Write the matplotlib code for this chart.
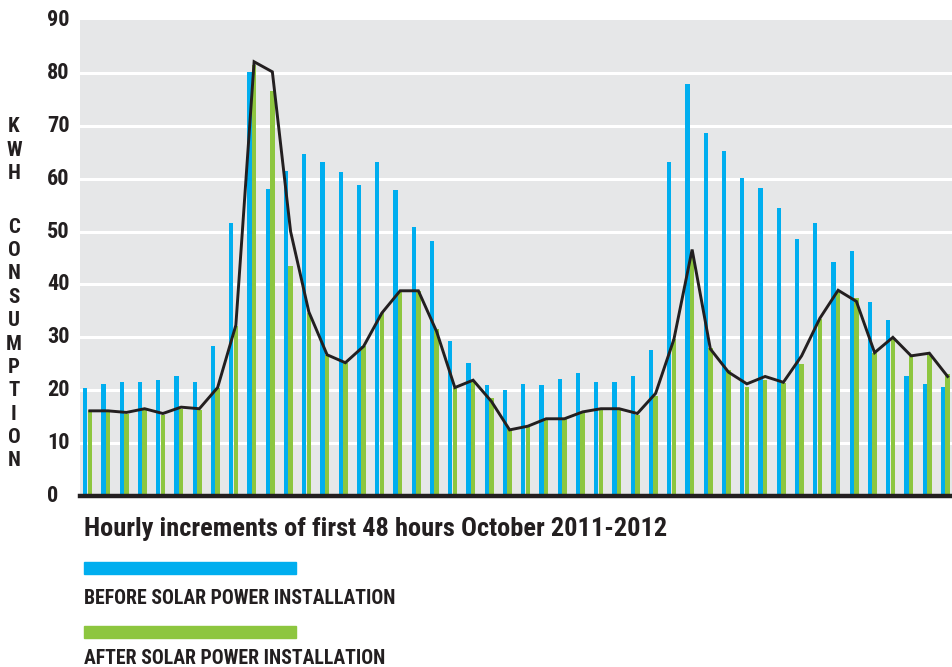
import matplotlib
matplotlib.use("Agg")
import matplotlib.pyplot as plt
from matplotlib import font_manager
import numpy as np

# ---------------- data ----------------
hours = list(range(48))
before_solar = [20.5, 21.2, 21.5, 21.5, 22.0, 22.6, 21.6, 28.4, 51.7, 80.1,
                58.1, 61.5, 64.6, 63.1, 61.2, 58.8, 63.1, 57.8, 50.8, 48.3,
                29.3, 25.2, 20.9, 20.1, 21.2, 20.9, 22.2, 23.3, 21.5, 21.5,
                22.6, 27.6, 63.1, 77.9, 68.6, 65.2, 60.1, 58.3, 54.5, 48.6,
                51.6, 44.3, 46.3, 36.7, 33.2, 22.6, 21.2, 20.6]
after_solar = [16.2, 16.2, 15.5, 16.2, 15.4, 16.5, 16.2, 20.5, 32.2, 81.5,
               76.6, 43.4, 34.6, 26.6, 25.2, 28.3, 34.6, 38.7, 38.7, 31.5,
               20.5, 21.7, 18.6, 12.6, 13.2, 14.3, 14.6, 15.7, 16.4, 16.4,
               15.4, 18.9, 29.7, 45.9, 28.0, 23.9, 20.6, 22.0, 21.4, 25.0,
               33.5, 38.7, 37.4, 27.1, 29.6, 26.7, 26.7, 23.0]
trend_line = [16.1, 16.1, 15.8, 16.5, 15.6, 16.8, 16.5, 20.5, 32.3, 82.1,
              80.2, 50.0, 34.8, 26.7, 25.2, 28.3, 34.6, 38.8, 38.8, 31.1,
              20.5, 21.9, 17.9, 12.5, 13.2, 14.6, 14.6, 15.9, 16.5, 16.5,
              15.6, 19.4, 29.6, 46.6, 27.8, 23.4, 21.2, 22.6, 21.5, 26.5,
              33.6, 38.9, 36.8, 27.1, 30.0, 26.5, 27.0, 22.6]
y_ticks = [0, 10, 20, 30, 40, 50, 60, 70, 80, 90]
y_label = "KWH CONSUMPTION"
title = "Hourly increments of first 48 hours October 2011-2012"
legend_labels = ["BEFORE SOLAR POWER INSTALLATION", "AFTER SOLAR POWER INSTALLATION"]

BLUE = "#00AEEF"
GREEN = "#8DC63F"
DARK = "#231F20"
BG = "#E6E7E8"

# ---------------- fonts ----------------
avail = {f.name for f in font_manager.fontManager.ttflist}
cands = ["Liberation Sans Narrow", "Roboto Condensed", "Open Sans Condensed", "DejaVu Sans"]
FONT = next(c for c in cands if c in avail)
plt.rcParams["font.family"] = [FONT, "DejaVu Sans"]

W, H = 952, 667
fig = plt.figure(figsize=(W / 100, H / 100), dpi=100)

ax_left, ax_right, ax_top, ax_bottom = 80, 952, 20, 496
ax = fig.add_axes([ax_left / W, 1 - ax_bottom / H,
                   (ax_right - ax_left) / W, (ax_bottom - ax_top) / H])
ax.set_facecolor(BG)

x = np.array(hours, dtype=float)
bw = 0.23
ax.bar(x - 0.12, before_solar, width=bw, color=BLUE, zorder=2)
ax.bar(x + 0.13, after_solar, width=bw + 0.02, color=GREEN, zorder=2)
ax.plot(x + 0.13, trend_line, color=DARK, lw=2.1, zorder=3, solid_joinstyle="miter")

ax.set_ylim(0, 90)
ax.set_xlim(-0.41, 47.37)
for t in y_ticks[1:-1]:
    ax.axhline(t, color="white", lw=2.2, zorder=1)

for s in ["top", "right", "left"]:
    ax.spines[s].set_visible(False)
ax.spines["bottom"].set_color(DARK)
ax.spines["bottom"].set_linewidth(3.2)
ax.spines["bottom"].set_zorder(4)
ax.set_xticks([])
ax.set_yticks([])

# y tick labels (left-aligned)
ytr = ax.get_yaxis_transform()
for t in y_ticks:
    ax.text((47 - ax_left) / (ax_right - ax_left), t, str(t), transform=ytr,
            ha="left", va="center", fontsize=16, fontweight="bold",
            color=DARK, clip_on=False)

# vertical stacked y label
words = y_label.split(" ")
starts = [127, 227]
for w, y0 in zip(words, starts):
    for k, ch in enumerate(w):
        fig.text(14 / W, 1 - (y0 + 23.4 * k) / H, ch, ha="center", va="center",
                 fontsize=15, fontweight="bold", color=DARK)

# title
fig.text(84 / W, 1 - 529 / H, title, ha="left", va="center", fontsize=19.0,
         color=DARK, fontweight="bold")

# legend
for (col, lab, ry, ty) in [(BLUE, legend_labels[0], 562, 598),
                           (GREEN, legend_labels[1], 626, 659)]:
    fig.patches.append(plt.Rectangle((84 / W, 1 - (ry + 12) / H), 212 / W, 12 / H,
                                     transform=fig.transFigure, color=col))
    fig.text(84 / W, 1 - ty / H, lab, ha="left", va="center", fontsize=14.2,
             fontweight="bold", color=DARK)

fig.savefig("out.png", dpi=100, facecolor="white")
